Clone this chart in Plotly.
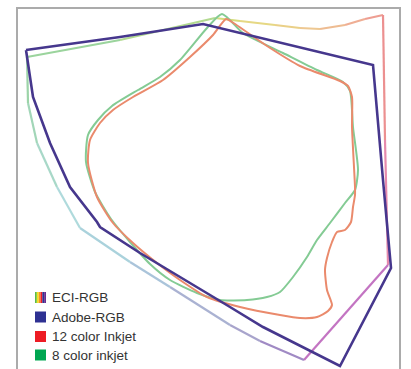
import plotly.graph_objects as go

# ---------------- data (pixel-like chromaticity units) -------------
series_names = ["ECI-RGB", "Adobe-RGB", "12 color Inkjet", "8 color inkjet"]

eci_x = [27, 120, 215, 240, 275, 300, 320, 345, 365, 383, 385, 388, 304, 260, 230, 170, 130, 80,
         57, 37, 28, 27]
eci_y = [57, 40, 18, 21, 25, 28, 29, 25, 19, 15, 140, 265, 360, 341, 325, 287, 262, 228,
         187, 143, 103, 57]

adobe_x = [26, 120, 203, 300, 373, 383, 391, 340, 263, 230, 180, 140, 100, 97, 70, 50, 33, 27, 26]
adobe_y = [50, 37, 24, 47, 65, 180, 268, 366, 327, 307, 277, 253, 227, 222, 187, 143, 97, 60, 50]

inkjet12_x = [226, 232, 267, 300, 340, 348, 352, 352, 355, 355, 353, 351, 345, 337, 332, 327, 325,
              327, 332, 328, 317, 300, 280, 240, 207, 180, 157, 133, 113, 97, 88, 90, 100, 113,
              133, 163, 190, 213, 226]
inkjet12_y = [19, 22, 46, 66, 81, 86, 97, 127, 187, 195, 207, 222, 230, 232, 242, 258, 270,
              290, 305, 311, 317, 318, 315, 307, 297, 280, 263, 243, 223, 197, 163, 140, 123, 110,
              97, 80, 57, 35, 19]

inkjet8_x = [222, 243, 283, 317, 343, 350, 353, 358, 355, 345, 330, 317, 307, 293, 280, 267, 247,
             220, 197, 170, 150, 130, 111, 95, 86, 88, 98, 112, 138, 160, 180, 207, 222]
inkjet8_y = [14, 33, 53, 70, 82, 91, 127, 170, 190, 203, 223, 240, 257, 277, 292, 297, 300,
             300, 293, 280, 264, 242, 219, 192, 162, 135, 120, 106, 90, 77, 60, 28, 14]

# ---------------- styles -------------
# colour at each ECI vertex (rainbow gradient drawn segment by segment)
eci_colors = ["#9bd49d", "#b2da90", "#d6dc7c", "#e6d884", "#ead088", "#eec892", "#eebc92",
              "#efae94", "#ee9e92", "#ec9090", "#e68aac", "#c374c2", "#a08ac4", "#a8a4cc",
              "#aab2d2", "#aac4da", "#aad2dc", "#afdadc", "#a8d8c8", "#a2d6b8", "#9cd4a8"]
adobe_color = "#46378d"
red_color = "#ea8a6c"
green_color = "#84cb94"
legend_swatch = ["", "#2e3192", "#ed1c24", "#00a651"]
eci_stripes = ["#5dbb46", "#f2e31b", "#f7941d", "#ed1c24", "#2e3192", "#662d91"]

fig = go.Figure()

# ECI-RGB: one segment per edge, each with its own hue
for i in range(len(eci_x) - 1):
    fig.add_trace(go.Scatter(
        x=eci_x[i:i + 2], y=eci_y[i:i + 2], mode="lines",
        line=dict(color=eci_colors[i], width=2.2),
        showlegend=False, hoverinfo="skip"))

fig.add_trace(go.Scatter(x=inkjet8_x, y=inkjet8_y, mode="lines", name=series_names[3],
                         line=dict(color=green_color, width=2, shape="spline", smoothing=0.6),
                         showlegend=False))
fig.add_trace(go.Scatter(x=inkjet12_x, y=inkjet12_y, mode="lines", name=series_names[2],
                         line=dict(color=red_color, width=2, shape="spline", smoothing=0.6),
                         showlegend=False))
fig.add_trace(go.Scatter(x=adobe_x, y=adobe_y, mode="lines", name=series_names[1],
                         line=dict(color=adobe_color, width=2.6),
                         showlegend=False))

shapes = []
# frame (open at the bottom)
shapes.append(dict(type="path", path="M 17,375 L 17,8 L 400,8 L 400,375",
                   xref="x", yref="y", line=dict(color="#ababab", width=2)))

# legend
leg_x0, leg_x1 = 35, 46
leg_y = [297.5, 317, 336.5, 355]
for k, name in enumerate(series_names):
    yc = leg_y[k]
    if k == 0:
        w = (leg_x1 - leg_x0) / len(eci_stripes)
        for j, c in enumerate(eci_stripes):
            shapes.append(dict(type="rect", xref="x", yref="y",
                               x0=leg_x0 + j * w, x1=leg_x0 + (j + 1) * w,
                               y0=yc - 5.5, y1=yc + 5.5, line=dict(width=0), fillcolor=c))
    else:
        shapes.append(dict(type="rect", xref="x", yref="y", x0=leg_x0, x1=leg_x1,
                           y0=yc - 5.5, y1=yc + 5.5, line=dict(width=0),
                           fillcolor=legend_swatch[k]))
    fig.add_annotation(x=50, y=yc, xref="x", yref="y", text=name, showarrow=False,
                       xanchor="left", yanchor="middle",
                       font=dict(family="Liberation Sans, Arial, sans-serif", size=13.5,
                                 color="#333333"))

fig.update_layout(
    width=411, height=369,
    margin=dict(l=0, r=0, t=0, b=0),
    paper_bgcolor="white", plot_bgcolor="white",
    shapes=shapes,
    xaxis=dict(range=[0, 411], visible=False, showgrid=False, zeroline=False),
    yaxis=dict(range=[369, 0], visible=False, showgrid=False, zeroline=False),
)

fig.write_html("out.html", config={"displayModeBar": False},
               post_script="document.body.style.margin='0';document.body.style.overflow='hidden';")
